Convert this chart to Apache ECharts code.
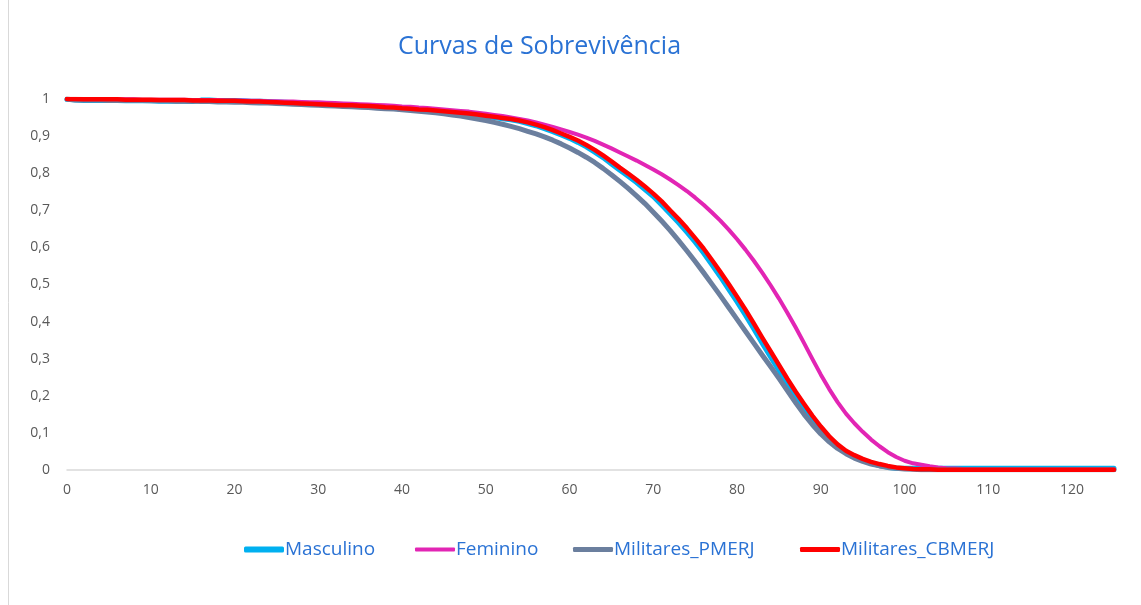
<!DOCTYPE html>
<html lang="pt">
<head>
    <meta charset="UTF-8">
    <title>Curvas de Sobrevivência</title>
    <script src="https://cdn.jsdelivr.net/npm/echarts@6/dist/echarts.min.js"></script>
    <style>
        html, body { margin: 0; padding: 0; background: #fff; }
        #main { width: 1141px; height: 605px; }
    </style>
</head>
<body>
    <div id="main"></div>

    <script>
        // idades 0..125 (categorias do eixo x)
        var idades = [];
        for (var i = 0; i <= 125; i++) idades.push(String(i));

        var yTickLabels = ['0', '0,1', '0,2', '0,3', '0,4', '0,5', '0,6', '0,7', '0,8', '0,9', '1'];

        var masculino = [
            0.999, 0.997, 0.996, 0.996, 0.996, 0.996, 0.996, 0.995, 0.995, 0.995,
            0.995, 0.994, 0.994, 0.994, 0.994, 0.993, 0.997, 0.997, 0.996, 0.996,
            0.996, 0.995, 0.994, 0.994, 0.993, 0.992, 0.991, 0.990, 0.989, 0.988,
            0.987, 0.986, 0.985, 0.981, 0.981, 0.980, 0.979, 0.978, 0.976, 0.975,
            0.973, 0.972, 0.970, 0.969, 0.967, 0.965, 0.963, 0.961, 0.959, 0.956,
            0.952, 0.950, 0.947, 0.944, 0.940, 0.934, 0.928, 0.920, 0.912, 0.903,
            0.894, 0.883, 0.871, 0.857, 0.842, 0.825, 0.808, 0.792, 0.775, 0.756,
            0.737, 0.714, 0.691, 0.667, 0.641, 0.614, 0.585, 0.553, 0.521, 0.487,
            0.453, 0.417, 0.380, 0.342, 0.305, 0.268, 0.231, 0.196, 0.164, 0.134,
            0.106, 0.081, 0.061, 0.047, 0.036, 0.027, 0.018, 0.012, 0.007, 0.005,
            0.005, 0.005, 0.005, 0.005, 0.005, 0.005, 0.005, 0.005, 0.005, 0.005,
            0.005, 0.005, 0.005, 0.005, 0.005, 0.005, 0.005, 0.005, 0.005, 0.005,
            0.005, 0.005, 0.005, 0.005, 0.005, 0.005
        ];

        var feminino = [
            1.000, 0.999, 0.999, 0.999, 0.999, 0.999, 0.999, 0.999, 0.999, 0.998,
            0.998, 0.998, 0.998, 0.998, 0.998, 0.997, 0.997, 0.997, 0.997, 0.996,
            0.996, 0.996, 0.995, 0.995, 0.994, 0.994, 0.993, 0.993, 0.992, 0.991,
            0.991, 0.990, 0.989, 0.988, 0.987, 0.986, 0.985, 0.984, 0.983, 0.982,
            0.980, 0.979, 0.977, 0.976, 0.974, 0.972, 0.970, 0.968, 0.966, 0.963,
            0.960, 0.957, 0.954, 0.950, 0.946, 0.942, 0.937, 0.931, 0.925, 0.918,
            0.911, 0.904, 0.896, 0.887, 0.877, 0.867, 0.856, 0.845, 0.834, 0.822,
            0.810, 0.797, 0.783, 0.768, 0.752, 0.734, 0.715, 0.694, 0.672, 0.648,
            0.622, 0.594, 0.564, 0.532, 0.498, 0.462, 0.424, 0.384, 0.342, 0.299,
            0.257, 0.218, 0.183, 0.152, 0.126, 0.103, 0.082, 0.064, 0.048, 0.035,
            0.025, 0.018, 0.014, 0.010, 0.007, 0.005, 0.004, 0.003, 0.003, 0.002,
            0.002, 0.002, 0.002, 0.002, 0.002, 0.002, 0.002, 0.002, 0.002, 0.002,
            0.002, 0.002, 0.002, 0.002, 0.002, 0.002
        ];

        var militaresPMERJ = [
            1.000, 0.997, 0.997, 0.997, 0.997, 0.996, 0.996, 0.996, 0.996, 0.996,
            0.995, 0.995, 0.995, 0.994, 0.994, 0.994, 0.993, 0.993, 0.992, 0.992,
            0.991, 0.991, 0.990, 0.989, 0.989, 0.988, 0.987, 0.986, 0.985, 0.984,
            0.983, 0.982, 0.981, 0.980, 0.979, 0.978, 0.977, 0.975, 0.974, 0.973,
            0.971, 0.969, 0.967, 0.965, 0.963, 0.960, 0.957, 0.954, 0.950, 0.946,
            0.942, 0.937, 0.932, 0.926, 0.920, 0.913, 0.906, 0.898, 0.889, 0.879,
            0.868, 0.856, 0.843, 0.829, 0.813, 0.796, 0.778, 0.759, 0.739, 0.718,
            0.695, 0.671, 0.646, 0.619, 0.591, 0.562, 0.532, 0.501, 0.470, 0.438,
            0.406, 0.374, 0.342, 0.310, 0.279, 0.247, 0.214, 0.181, 0.150, 0.122,
            0.097, 0.076, 0.058, 0.044, 0.032, 0.023, 0.016, 0.011, 0.007, 0.005,
            0.003, 0.002, 0.001, 0.001, 0.001, 0.001, 0.001, 0.001, 0.001, 0.001,
            0.001, 0.001, 0.001, 0.001, 0.001, 0.001, 0.001, 0.001, 0.001, 0.001,
            0.001, 0.001, 0.001, 0.001, 0.001, 0.001
        ];

        var militaresCBMERJ = [
            1.000, 1.000, 0.999, 0.999, 0.999, 0.999, 0.999, 0.998, 0.998, 0.998,
            0.998, 0.997, 0.997, 0.997, 0.997, 0.996, 0.996, 0.996, 0.995, 0.995,
            0.995, 0.994, 0.993, 0.993, 0.992, 0.991, 0.990, 0.989, 0.988, 0.987,
            0.986, 0.985, 0.984, 0.983, 0.983, 0.982, 0.981, 0.980, 0.978, 0.977,
            0.975, 0.974, 0.972, 0.971, 0.969, 0.967, 0.965, 0.963, 0.961, 0.958,
            0.955, 0.952, 0.949, 0.946, 0.942, 0.937, 0.931, 0.924, 0.916, 0.907,
            0.898, 0.888, 0.876, 0.863, 0.848, 0.832, 0.815, 0.799, 0.782, 0.764,
            0.745, 0.724, 0.700, 0.677, 0.652, 0.625, 0.597, 0.566, 0.534, 0.501,
            0.467, 0.432, 0.395, 0.357, 0.320, 0.283, 0.246, 0.211, 0.178, 0.146,
            0.117, 0.091, 0.069, 0.052, 0.040, 0.030, 0.022, 0.016, 0.011, 0.007,
            0.005, 0.003, 0.002, 0.002, 0.001, 0.001, 0.001, 0.001, 0.001, 0.001,
            0.001, 0.001, 0.001, 0.001, 0.001, 0.001, 0.001, 0.001, 0.001, 0.001,
            0.001, 0.001, 0.001, 0.001, 0.001, 0.001
        ];

        var azulTexto = '#2a72d4';
        var cinzaTexto = '#595959';

        var myChart = echarts.init(document.getElementById('main'));

        function linha(nome, dados, cor, largura) {
            return {
                name: nome,
                type: 'line',
                data: dados,
                symbol: 'none',
                smooth: false,
                lineStyle: { color: cor, width: largura, cap: 'round', join: 'round' },
                itemStyle: { color: cor }
            };
        }

        // uma legenda por item, para acertar a posição de cada um
        function legenda(nome, esquerda, altura) {
            return {
                left: esquerda - 5,
                top: 535,
                icon: 'roundRect',
                itemWidth: 40,
                itemHeight: altura,
                textStyle: { color: azulTexto, fontSize: 19, fontFamily: 'Open Sans', padding: [0, 0, 0, -4] },
                data: [nome]
            };
        }

        var option = {
            backgroundColor: '#fff',
            animation: false,
            textStyle: { fontFamily: 'Open Sans' },
            title: {
                text: 'Curvas de Sobrevivência',
                left: 393,
                top: 29,
                textStyle: { color: azulTexto, fontSize: 25, fontWeight: 'normal', fontFamily: 'Open Sans' }
            },
            legend: [
                legenda('Masculino', 244, 6),
                legenda('Feminino', 415, 4),
                legenda('Militares_PMERJ', 573, 5),
                legenda('Militares_CBMERJ', 800, 5)
            ],
            grid: { left: 67, right: 27, top: 99, bottom: 135 },
            xAxis: {
                type: 'category',
                boundaryGap: false,
                data: idades,
                axisLine: { lineStyle: { color: '#d9d9d9', width: 1.5 } },
                axisTick: { show: false },
                axisLabel: { interval: 9, color: cinzaTexto, fontSize: 14, margin: 13 },
                splitLine: { show: false }
            },
            yAxis: {
                type: 'value',
                min: 0,
                max: 1,
                interval: 0.1,
                axisLine: { show: false },
                axisTick: { show: false },
                splitLine: { show: false },
                axisLabel: {
                    color: cinzaTexto,
                    fontSize: 14,
                    margin: 17,
                    formatter: function (v) { return yTickLabels[Math.round(v * 10)]; }
                }
            },
            graphic: [{
                type: 'line',
                shape: { x1: 8.5, y1: 0, x2: 8.5, y2: 605 },
                style: { stroke: '#d9d9d9', lineWidth: 1 }
            }],
            series: [
                linha('Masculino', masculino, '#00b0f0', 5),
                linha('Feminino', feminino, '#e225b4', 4),
                linha('Militares_PMERJ', militaresPMERJ, '#6b7f9e', 5),
                linha('Militares_CBMERJ', militaresCBMERJ, '#ff0000', 4.5)
            ]
        };

        myChart.setOption(option);
    </script>
</body>
</html>
